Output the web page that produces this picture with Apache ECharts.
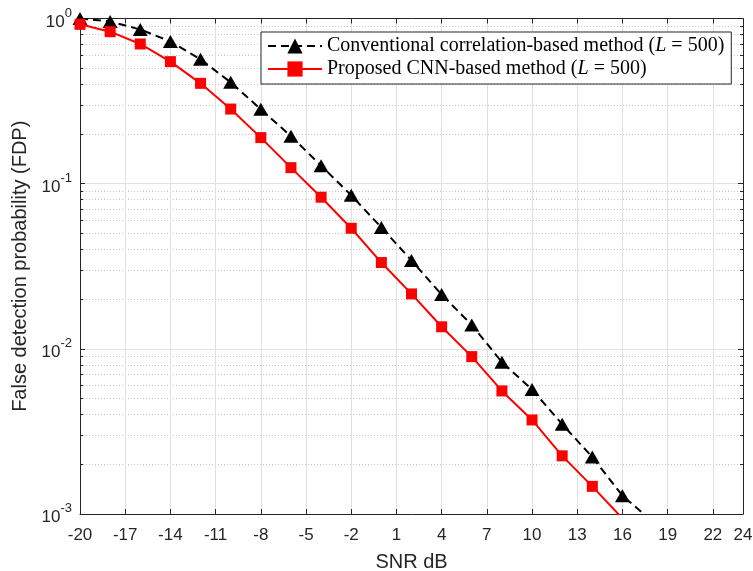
<!DOCTYPE html>
<html>
<head>
<meta charset="utf-8">
<script src="https://cdn.jsdelivr.net/npm/echarts@6/dist/echarts.min.js"></script>
<style>
html,body{margin:0;padding:0;background:#fff;}
#chart{width:753px;height:571px;}
</style>
</head>
<body>
<div id="chart"></div>
<script>
// ---- data ----
const snrBlack = [-20,-18,-16,-14,-12,-10,-8,-6,-4,-2,0,2,4,6,8,10,12,14,16,18];
const fdpConventional = [1.0,0.959,0.858,0.726,0.566,0.411,0.282,0.194,0.1285,0.085,0.0543,0.0343,0.0213,0.01395,0.0083,0.00567,0.0035,0.00221,0.00129,0.0009];
const snrRed = [-20,-18,-16,-14,-12,-10,-8,-6,-4,-2,0,2,4,6,8,10,12,14,16];
const fdpProposed = [0.922,0.832,0.701,0.548,0.405,0.283,0.190,0.125,0.0828,0.0537,0.0333,0.0215,0.0136,0.00897,0.00556,0.00371,0.00225,0.00147,0.00094];
const seriesNames = ['Conventional correlation-based method (L = 500)','Proposed CNN-based method (L = 500)'];
const xTicks = [-20,-17,-14,-11,-8,-5,-2,1,4,7,10,13,16,19,22,24];
const yMajorTicks = [0.001,0.01,0.1,1];
const yMinorTicks = [0.002,0.003,0.004,0.005,0.006,0.007,0.008,0.009,0.02,0.03,0.04,0.05,0.06,0.07,0.08,0.09,0.2,0.3,0.4,0.5,0.6,0.7,0.8,0.9];
const xLabel = 'SNR dB';
const yLabel = 'False detection probability (FDP)';

const axisColor = '#262626';
const sans = 'Liberation Sans';
const serif = 'Liberation Serif';

const chart = echarts.init(document.getElementById('chart'), null, {renderer:'canvas'});

const baseY = {
  type:'log', logBase:10, min:0.001, max:1
};

const option = {
  animation:false,
  backgroundColor:'#fff',
  grid:{left:80, right:10, top:18.5, bottom:57, containLabel:false, outerBoundsMode:'none'},
  legend:{
    orient:'vertical',
    left:261, top:32,
    padding:[4,7,5,6],
    itemGap:3,
    itemWidth:54, itemHeight:19,
    backgroundColor:'#fff',
    borderColor:axisColor, borderWidth:1,
    selectedMode:false,
    data:seriesNames,
    formatter:function(name){ return name.replace('(L','({i|L}'); },
    textStyle:{
      fontFamily:serif, fontSize:20, color:'#000', lineHeight:20,
      rich:{ i:{fontFamily:serif, fontSize:20, fontStyle:'italic', color:'#000', lineHeight:20} }
    }
  },
  xAxis:[{
    type:'value', min:-20, max:24,
    position:'bottom',
    name:xLabel, nameLocation:'middle', nameGap:38,
    nameTextStyle:{fontFamily:sans, fontSize:20, color:axisColor},
    axisLine:{show:true, onZero:false, lineStyle:{color:axisColor, width:1}},
    axisTick:{show:true, inside:true, length:5, customValues:xTicks, lineStyle:{color:axisColor}},
    axisLabel:{show:true, customValues:xTicks, margin:13, fontFamily:sans, fontSize:17, color:axisColor, showMinLabel:true, showMaxLabel:true},
    splitLine:{show:true, lineStyle:{color:'#e0e0e0', width:1}}
  },{
    type:'value', min:-20, max:24,
    position:'top',
    axisLine:{show:true, onZero:false, lineStyle:{color:axisColor, width:1}},
    axisTick:{show:true, inside:true, length:5, customValues:xTicks, lineStyle:{color:axisColor}},
    axisLabel:{show:false},
    splitLine:{show:false}
  }],
  yAxis:[Object.assign({}, baseY, {
    position:'left',
    name:yLabel, nameLocation:'middle', nameGap:41,
    nameTextStyle:{fontFamily:sans, fontSize:20, color:axisColor},
    axisLine:{show:true, onZero:false, lineStyle:{color:axisColor, width:1}},
    axisTick:{show:true, inside:true, length:5, customValues:yMajorTicks, lineStyle:{color:axisColor}},
    axisLabel:{
      show:true, customValues:yMajorTicks, margin:8,
      formatter:function(v){ const e=Math.round(Math.log10(v)); return '{b|10}{s|'+e+'}'; },
      rich:{
        b:{fontFamily:sans, fontSize:17, color:axisColor, lineHeight:24, verticalAlign:'bottom'},
        s:{fontFamily:sans, fontSize:13, color:axisColor, lineHeight:24, verticalAlign:'top'}
      }
    },
    splitLine:{show:true, lineStyle:{color:'#e0e0e0', width:1}}
  }), Object.assign({}, baseY, {
    position:'right',
    axisLine:{show:true, onZero:false, lineStyle:{color:axisColor, width:1}},
    axisTick:{show:true, inside:true, length:5, customValues:yMajorTicks, lineStyle:{color:axisColor}},
    axisLabel:{show:false},
    splitLine:{show:false}
  }), Object.assign({}, baseY, {
    position:'left',
    axisLine:{show:false, onZero:false},
    axisTick:{show:true, inside:true, length:3, customValues:yMinorTicks, lineStyle:{color:axisColor}},
    axisLabel:{show:false},
    splitLine:{show:true, lineStyle:{color:'#c8c8c8', width:1, type:[1,2]}}
  }), Object.assign({}, baseY, {
    position:'right',
    axisLine:{show:false, onZero:false},
    axisTick:{show:true, inside:true, length:3, customValues:yMinorTicks, lineStyle:{color:axisColor}},
    axisLabel:{show:false},
    splitLine:{show:false}
  })],
  series:[{
    name:seriesNames[0],
    type:'line',
    xAxisIndex:0, yAxisIndex:0,
    data:snrBlack.map((x,i)=>[x, fdpConventional[i]]),
    symbol:'triangle', symbolSize:[15,13],
    showAllSymbol:true,
    clip:true,
    lineStyle:{color:'#000', width:2, type:[8,5]},
    itemStyle:{color:'#000', borderWidth:0},
    z:3
  },{
    name:seriesNames[1],
    type:'line',
    xAxisIndex:0, yAxisIndex:0,
    data:snrRed.map((x,i)=>[x, fdpProposed[i]]),
    symbol:'rect', symbolSize:11,
    showAllSymbol:true,
    clip:true,
    lineStyle:{color:'#ff0000', width:2},
    itemStyle:{color:'#ff0000', borderWidth:0},
    z:4
  }]
};
chart.setOption(option);
</script>
</body>
</html>
